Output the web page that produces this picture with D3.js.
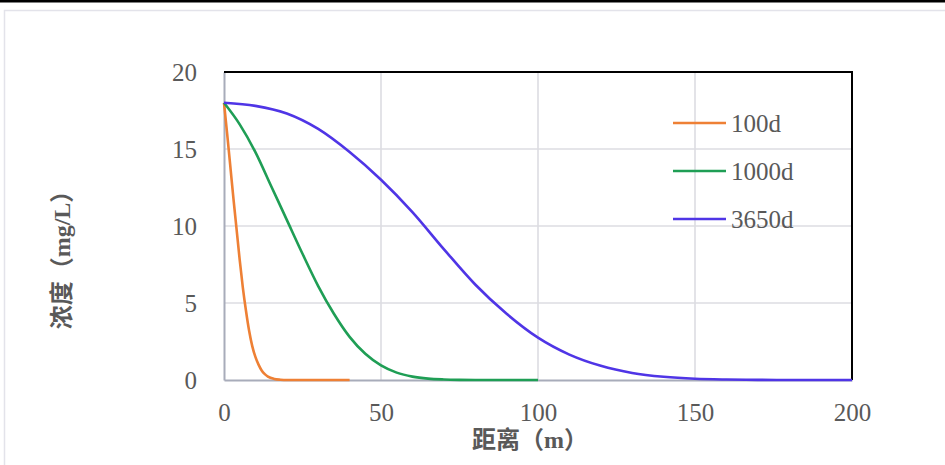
<!DOCTYPE html>
<html><head><meta charset="utf-8">
<script src="https://cdn.jsdelivr.net/npm/d3@7"></script>
<style>html,body{margin:0;padding:0;background:#fff;overflow:hidden}</style>
</head><body>
<svg id="chart" width="945" height="465"></svg>
<script>
const seriesNames = ["100d", "1000d", "3650d"];
const seriesColors = ["#ee8035", "#1f9e55", "#4f35e6"];
const x100 = [0,1,2,3,4,5,6,7,8,9,10,11,12,13,14,16,18,20,25,30,35,40];
const y100 = [18,16.0,13.9,11.8,9.8,7.8,6.0,4.5,3.2,2.2,1.5,1.0,0.62,0.38,0.22,0.07,0.02,0,0,0,0,0];
const x1000 = [0,5,10,15,20,25,30,35,40,45,50,55,60,65,70,75,80,90,100];
const y1000 = [18,16.6,14.8,12.6,10.4,8.2,6.1,4.3,2.8,1.7,0.95,0.48,0.22,0.09,0.035,0.01,0,0,0];
const x3650 = [0,10,20,30,40,50,60,70,80,90,100,110,120,130,140,150,160,170,180,190,200];
const y3650 = [18,17.8,17.3,16.3,14.8,13.0,10.9,8.5,6.2,4.3,2.75,1.65,0.92,0.46,0.21,0.08,0.03,0.01,0,0,0];
const xTicks = [0,50,100,150,200];
const yTicks = [0,5,10,15,20];
const xTitle = "距离（m）";
const yTitle = "浓度（mg/L）";

const svg = d3.select("#chart");
svg.append("rect").attr("x",0).attr("y",0).attr("width",945).attr("height",2.5).attr("fill","#000");
svg.append("path").attr("d","M4.5,480 V10.5 H945").attr("fill","none").attr("stroke","#e3e3ea").attr("stroke-width",1.5);

const L=224, R=852, T=72, B=380;
const x = d3.scaleLinear().domain([0,200]).range([L,R]);
const y = d3.scaleLinear().domain([0,20]).range([B,T]);
const g = svg.append("g");
const fontNum = "'Liberation Serif','Times New Roman',serif";
const textCol = "#595959";

g.selectAll(".gx").data(xTicks.slice(1,-1)).join("line")
 .attr("x1",d=>x(d)).attr("x2",d=>x(d)).attr("y1",T).attr("y2",B)
 .attr("stroke","#dcdce2").attr("stroke-width",1.6);
g.selectAll(".gy").data(yTicks.slice(1,-1)).join("line")
 .attr("x1",L).attr("x2",R).attr("y1",d=>y(d)).attr("y2",d=>y(d))
 .attr("stroke","#dcdce2").attr("stroke-width",1.6);

const xAxis = d3.axisBottom(x).tickValues(xTicks).tickSize(0).tickPadding(23);
const yAxis = d3.axisLeft(y).tickValues(yTicks).tickSize(0).tickPadding(27);
const gx = g.append("g").attr("transform",`translate(0,${B})`).call(xAxis);
const gy = g.append("g").attr("transform",`translate(${L},0)`).call(yAxis);
[gx,gy].forEach(a=>{
  a.select(".domain").attr("stroke","#a8acba").attr("stroke-width",2);
  a.selectAll("text").attr("font-family",fontNum).attr("font-size",25).attr("fill",textCol);
});
gx.selectAll("text").attr("dy","0.71em");
gy.selectAll("text").attr("dy","0.32em");
g.append("path").attr("d",`M${L},${T} H${R} V${B}`).attr("fill","none").attr("stroke","#000").attr("stroke-width",2);

const data = [
  x100.map((v,i)=>[v,y100[i]]),
  x1000.map((v,i)=>[v,y1000[i]]),
  x3650.map((v,i)=>[v,y3650[i]])
];
const line = d3.line().x(d=>x(d[0])).y(d=>y(d[1])).curve(d3.curveMonotoneX);
g.selectAll(".series").data(data).join("path")
 .attr("d",line).attr("fill","none")
 .attr("stroke",(d,i)=>seriesColors[i]).attr("stroke-width",2.6).attr("stroke-linejoin","round");

const legY = [123,171,219];
const leg = g.selectAll(".leg").data(seriesNames).join("g").attr("transform",(d,i)=>`translate(673,${legY[i]})`);
leg.append("line").attr("x1",0).attr("x2",53).attr("stroke",(d,i)=>seriesColors[i]).attr("stroke-width",2.6);
leg.append("text").attr("x",58).attr("dy","0.35em").text(d=>d)
 .attr("font-family",fontNum).attr("font-size",25).attr("fill",textCol);

const titleFont = "'Liberation Serif','Noto Sans CJK SC',serif";
svg.append("text").attr("x",530).attr("y",440).attr("dy","0.35em").attr("text-anchor","middle")
 .attr("font-family",titleFont).attr("font-size",24).attr("font-weight","bold").attr("fill",textCol).text(xTitle);
svg.append("text").attr("transform","translate(62,254) rotate(-90)").attr("dy","0.35em").attr("text-anchor","middle")
 .attr("font-family",titleFont).attr("font-size",24).attr("font-weight","bold").attr("fill",textCol).text(yTitle);
</script>
</body></html>
